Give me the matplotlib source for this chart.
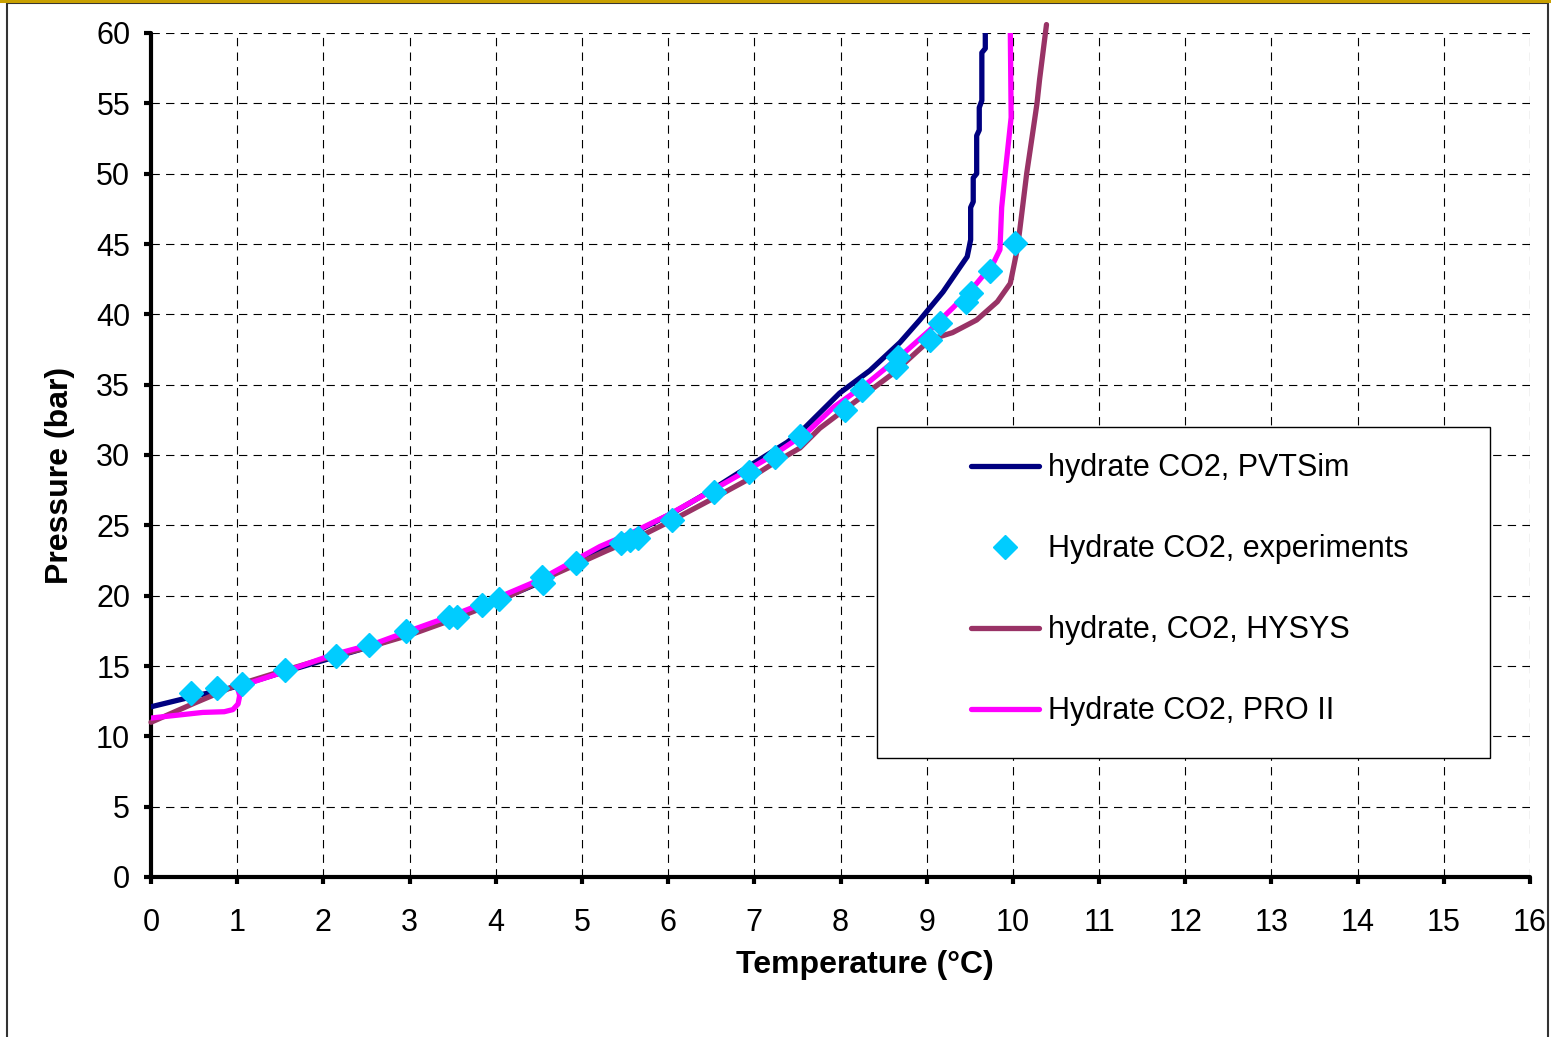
import matplotlib
matplotlib.use("Agg")
import matplotlib.pyplot as plt
from matplotlib.patches import Rectangle
from matplotlib.lines import Line2D

plt.rcParams['font.family'] = ['Liberation Sans', 'DejaVu Sans']
plt.rcParams['lines.scale_dashes'] = False

# Hydrate equilibrium curve, PVTSim
pvtsim_t = [0.0, 0.5, 1.0, 1.5, 2.0, 2.5, 3.0, 3.5, 4.0, 4.5, 4.9, 5.36, 5.71,
            6.06, 6.45, 6.99, 7.38, 7.53, 7.76, 7.99, 8.34, 8.69, 8.92, 9.19,
            9.38, 9.47, 9.51, 9.51, 9.54, 9.54, 9.58, 9.58, 9.61, 9.61, 9.64,
            9.64, 9.68, 9.68]
pvtsim_p = [12.1, 12.85, 13.55, 14.5, 15.4, 16.3, 17.3, 18.4, 19.6, 20.9, 22.4,
            23.7, 24.8, 25.9, 27.3, 29.4, 30.9, 31.6, 33.0, 34.4, 36.0, 38.0,
            39.6, 41.6, 43.3, 44.1, 45.3, 47.6, 48.0, 49.7, 50.0, 52.7, 53.1,
            54.7, 55.2, 58.6, 58.9, 60.0]

# Measured hydrate points
exp_t = [0.46, 0.77, 1.06, 1.55, 2.15, 2.53, 2.96, 3.46, 3.55, 3.84, 4.04, 4.54,
         4.55, 4.93, 5.45, 5.56, 5.65, 6.05, 6.53, 6.94, 7.24, 7.53, 8.05, 8.25,
         8.64, 8.67, 9.04, 9.15, 9.46, 9.51, 9.73, 10.02]
exp_p = [13.08, 13.44, 13.72, 14.72, 15.71, 16.49, 17.49, 18.48, 18.48, 19.34,
         19.76, 21.33, 20.90, 22.32, 23.74, 23.96, 24.10, 25.38, 27.37, 28.79,
         29.86, 31.35, 33.20, 34.62, 36.26, 36.97, 38.17, 39.38, 40.88, 41.52,
         43.08, 45.07]

# Hydrate equilibrium curve, HYSYS
hysys_t = [0.0, 0.5, 1.0, 1.5, 2.0, 2.5, 3.0, 3.5, 4.0, 4.71, 5.29, 5.67, 6.06,
           6.52, 6.91, 7.22, 7.53, 7.76, 8.15, 8.61, 9.04, 9.30, 9.58, 9.82,
           9.97, 10.05, 10.08, 10.16, 10.23, 10.28, 10.31, 10.39]
hysys_p = [11.0, 12.35, 13.65, 14.6, 15.5, 16.3, 17.2, 18.3, 19.5, 21.6, 23.2,
           24.2, 25.4, 26.9, 28.2, 29.4, 30.5, 31.9, 33.7, 35.8, 38.2, 38.7,
           39.6, 40.9, 42.2, 44.6, 46.0, 50.0, 52.9, 55.0, 56.7, 60.6]

# Hydrate equilibrium curve, PRO II
pro2_t = [0.0, 0.3, 0.6, 0.85, 0.95, 1.01, 1.03, 1.0, 1.55, 2.11, 2.6, 3.0, 3.5,
          4.0, 4.5, 5.21, 5.59, 5.99, 6.37, 6.83, 7.22, 7.61, 7.92, 8.31, 8.69,
          9.04, 9.31, 9.58, 9.77, 9.85, 9.87, 9.91, 9.98, 9.97]
pro2_p = [11.3, 11.5, 11.7, 11.75, 11.9, 12.3, 12.9, 13.5, 14.6, 15.8, 16.6,
          17.5, 18.6, 19.8, 21.1, 23.5, 24.5, 25.7, 27.0, 28.6, 30.0, 31.6, 33.4,
          35.1, 37.0, 38.9, 40.5, 42.2, 43.6, 44.6, 47.6, 50.0, 54.0, 60.2]

labels = ["hydrate CO2, PVTSim", "Hydrate CO2, experiments",
          "hydrate, CO2, HYSYS", "Hydrate CO2, PRO II"]
x_ticks = list(range(0, 17))
y_ticks = list(range(0, 61, 5))

W, H = 1551, 1037
fig = plt.figure(figsize=(W / 100, H / 100), dpi=100)

# outer chart frame and top accent line
fig.patches.append(Rectangle((7 / W, -0.01), (1548 - 7) / W, 1 - 3 / H + 0.01,
                             transform=fig.transFigure, fill=False,
                             edgecolor='#333333', linewidth=1.5))
fig.lines.append(Line2D([0, 1], [1 - 1 / H, 1 - 1 / H], transform=fig.transFigure,
                        color='#C8A000', linewidth=2.2))

ax = fig.add_axes([151 / W, 1 - 877 / H, (1530 - 151) / W, (877 - 33) / H])

lw = 3.8
ax.plot(pvtsim_t, pvtsim_p, color='#000080', lw=lw, zorder=3,
        solid_joinstyle='round', solid_capstyle='round', label=labels[0])
ax.plot(exp_t, exp_p, linestyle='none', marker='D', ms=12.5, color='#00CCFF',
        markeredgecolor='#00CCFF', zorder=6, label=labels[1])
ax.plot(hysys_t, hysys_p, color='#993366', lw=lw, zorder=4, clip_on=False,
        solid_joinstyle='round', solid_capstyle='round', label=labels[2])
ax.plot(pro2_t, pro2_p, color='#FF00FF', lw=lw, zorder=5,
        solid_joinstyle='round', solid_capstyle='round', label=labels[3])

ax.set_xlim(0, 16)
ax.set_ylim(0, 60)
ax.set_xticks(x_ticks)
ax.set_yticks(y_ticks)
ax.grid(True, color='black', linewidth=0.8, linestyle=(0, (6, 4.5)))
ax.set_axisbelow(True)

for s in ['top', 'right']:
    ax.spines[s].set_visible(False)
for s in ['left', 'bottom']:
    ax.spines[s].set_linewidth(3.0)
    ax.spines[s].set_capstyle('round')

ax.tick_params(axis='both', direction='out', width=3.0, length=5,
               labelsize=22, colors='black')
ax.tick_params(axis='x', pad=17)
ax.tick_params(axis='y', pad=10)

ax.set_xlabel("Temperature (°C)", fontsize=23, fontweight='bold')
ax.set_ylabel("Pressure (bar)", fontsize=23, fontweight='bold')
ax.xaxis.set_label_coords(0.518, -(965 - 877) / 844, transform=ax.transAxes)
ax.yaxis.set_label_coords(-(151 - 60) / 1379, (877 - 475) / 844, transform=ax.transAxes)
ax.xaxis.label.set_va('center')
ax.yaxis.label.set_va('center')

# legend box
fig.patches.append(Rectangle((877 / W, 1 - 758 / H), (1490 - 877) / W, (758 - 427) / H,
                             transform=fig.transFigure, facecolor='white',
                             edgecolor='black', linewidth=1.0, zorder=10))
leg = fig.legend(loc='upper left', bbox_to_anchor=(959 / W, 1 - 441 / H),
                 frameon=False, fontsize=22, handlelength=2.23,
                 handletextpad=0.28, labelspacing=1.67, borderaxespad=0)
leg.set_zorder(11)

fig.savefig("out.png", dpi=100)
